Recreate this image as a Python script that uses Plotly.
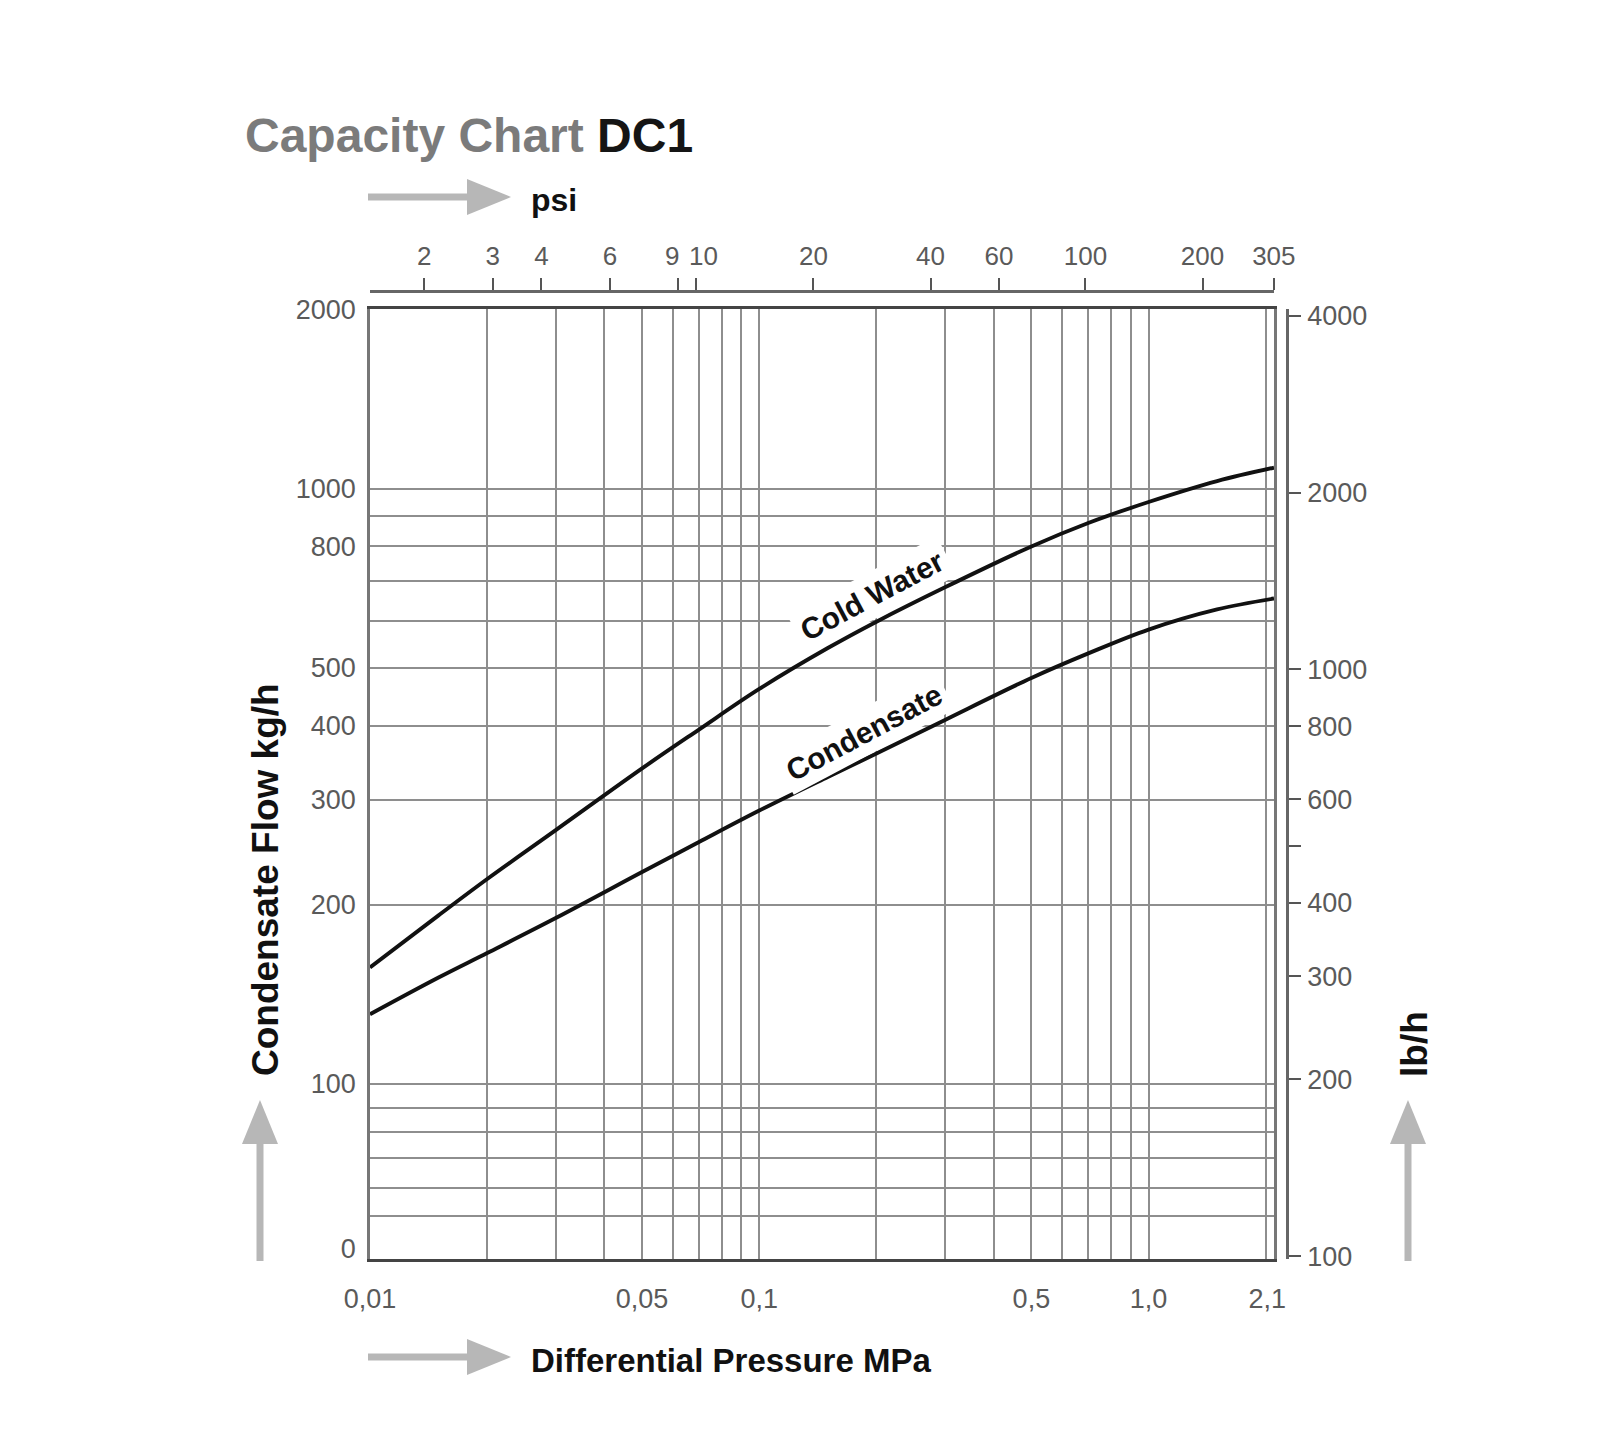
import math
import plotly.graph_objects as go

# values (MPa vs kg/h)
pressure_mpa = [0.01, 0.015, 0.02, 0.03, 0.05, 0.07, 0.1, 0.15, 0.2, 0.3, 0.5, 0.7, 1.0, 1.5, 2.1]
cold_water = [157, 192, 221, 267, 339, 394, 461, 540, 598, 683, 800, 876, 950, 1030, 1085]
condensate = [131, 151, 166, 190, 227, 255, 288, 328, 359, 409, 481, 529, 580, 627, 654]

x_tick_vals = [0.01, 0.05, 0.1, 0.5, 1.0, 2.1]
x_tick_text = ["0,01", "0,05", "0,1", "0,5", "1,0", "2,1\u2002"]
x_grid_vals = [0.02, 0.03, 0.04, 0.05, 0.06, 0.07, 0.08, 0.09, 0.1,
               0.2, 0.3, 0.4, 0.5, 0.6, 0.7, 0.8, 0.9, 1.0, 2.0]

y_tick_vals = [53, 100, 200, 300, 400, 500, 800, 1000, 2000]
y_tick_text = ["0", "100", "200", "300", "400", "500", "800", "1000", "2000"]
y_grid_vals = [60, 67, 75, 83, 91, 100, 200, 300, 400, 500, 600, 700, 800, 900, 1000]

psi_ticks = [2, 3, 4, 6, 9, 10, 20, 40, 60, 100, 200, 305]
psi_text = ["2", "3", "4", "6", "", "", "20", "40", "60", "100", "200", "305"]
# 9 and 10 sit very close; their labels are nudged apart
psi_close = [9, 10]
psi_close_shift = [-6, 7]

lbh_ticks = [100, 200, 300, 400, 500, 600, 800, 1000, 2000, 4000]
lbh_text = ["100", "200", "300", "400", "", "600", "800", "1000", "2000", "4000"]

MPA_PER_PSI = 0.0068948

FONT = "Liberation Sans, Arial, Helvetica, sans-serif"
GRID = "#8e8e8e"
ARROW = "#b7b7b7"

W, H = 1600, 1456
L, R, T, B = 362, 1279, 283, 1251  # paper box in pixels
Y_LOG = (1.706, 3.302)
X_LOG = (math.log10(0.01), math.log10(2.1))


def px(x):
    return (x - L) / (R - L)


def py(y):
    return (B - y) / (B - T)


def data_at(x_pix, y_pix):
    # pixel position inside the plot -> log10 data coords (for label placement)
    xl = X_LOG[0] + (x_pix - L) / (1266 - L) * (X_LOG[1] - X_LOG[0])
    yl = Y_LOG[0] + (B - y_pix) / (B - 301) * (Y_LOG[1] - Y_LOG[0])
    return xl, yl


fig = go.Figure()
for name, vals in [("Cold Water", cold_water), ("Condensate", condensate)]:
    fig.add_trace(go.Scatter(x=pressure_mpa, y=vals, mode="lines", name=name,
                             line=dict(color="#111", width=3.9, shape="spline", smoothing=1.0),
                             hoverinfo="x+y"))
# invisible helpers so the psi and lb/h axes get drawn
fig.add_trace(go.Scatter(x=[p / MPA_PER_PSI for p in pressure_mpa], y=cold_water,
                         xaxis="x2", yaxis="y", mode="lines", opacity=0,
                         line=dict(width=0), hoverinfo="skip"))
fig.add_trace(go.Scatter(x=pressure_mpa, y=[v * 2.20462 for v in condensate],
                         xaxis="x", yaxis="y2", mode="lines", opacity=0,
                         line=dict(width=0), hoverinfo="skip"))

tickfont = dict(family=FONT, size=27, color="#5a5a5a")
psifont = dict(family=FONT, size=26, color="#5a5a5a")

fig.update_layout(
    width=W, height=H,
    margin=dict(l=L, r=W - R, t=T, b=H - B),
    paper_bgcolor="white", plot_bgcolor="white",
    showlegend=False,
    xaxis=dict(
        type="log", range=list(X_LOG),
        domain=[0, (1266 - L) / (R - L)],
        tickmode="array", tickvals=x_tick_vals, ticktext=x_tick_text,
        ticks="", showgrid=False, tickfont=tickfont, ticklabelstandoff=14,
        showline=True, linecolor="#444", linewidth=3, mirror=True,
        minor=dict(tickmode="array", tickvals=x_grid_vals, showgrid=True,
                   gridcolor=GRID, gridwidth=1.6, ticks=""),
        zeroline=False,
    ),
    yaxis=dict(
        type="log", range=list(Y_LOG),
        domain=[0, (B - 301) / (B - T)],
        tickmode="array", tickvals=y_tick_vals, ticktext=y_tick_text,
        ticks="", showgrid=False, tickfont=tickfont, ticklabelstandoff=6,
        showline=True, linecolor="#777", linewidth=2.5, mirror=True,
        minor=dict(tickmode="array", tickvals=y_grid_vals, showgrid=True,
                   gridcolor=GRID, gridwidth=2, ticks=""),
        zeroline=False,
    ),
    xaxis2=dict(
        type="log", overlaying="x", side="top", anchor="free", position=1,
        range=[math.log10(0.01 / MPA_PER_PSI), math.log10(2.1 / MPA_PER_PSI) + 0.001],
        tickmode="array", tickvals=psi_ticks, ticktext=psi_text,
        tickangle=0, ticks="outside", ticklen=12, tickwidth=2, tickcolor="#555",
        showline=True, linecolor="#666", linewidth=2.5, ticklabelstandoff=3,
        showgrid=False, tickfont=psifont, zeroline=False,
    ),
    yaxis2=dict(
        type="log", overlaying="y", side="right", anchor="free", position=1,
        range=[1.995, 3.614],
        tickmode="array", tickvals=lbh_ticks, ticktext=lbh_text,
        ticks="outside", ticklen=12, tickwidth=2, tickcolor="#555",
        showline=True, linecolor="#666", linewidth=2.5, ticklabelstandoff=1,
        showgrid=False, tickfont=tickfont, zeroline=False,
    ),
)

for v, shift in zip(psi_close, psi_close_shift):
    fig.add_annotation(x=math.log10(v), xref="x2", y=py(248), yref="paper",
                       text=str(v), showarrow=False, xshift=shift,
                       xanchor="center", yanchor="middle", borderpad=0, font=psifont)

notes = [
    dict(text="<b><span style='color:#7b7b7b'>Capacity Chart</span> DC1</b>",
         x=px(235), y=py(128), xanchor="left", yanchor="middle",
         font=dict(family=FONT, size=48, color="#151515")),
    dict(text="<b>psi</b>", x=px(521), y=py(192), xanchor="left", yanchor="middle",
         font=dict(family=FONT, size=32, color="#111")),
    dict(text="<b>Differential Pressure MPa</b>", x=px(521), y=py(1352),
         xanchor="left", yanchor="middle", font=dict(family=FONT, size=33, color="#111")),
    dict(text="<b>Condensate Flow kg/h</b>", x=px(257), y=py(872), textangle=-90,
         xanchor="center", yanchor="middle", font=dict(family=FONT, size=37, color="#111")),
    dict(text="<b>lb/h</b>", x=px(1406), y=py(1036), textangle=-90,
         xanchor="center", yanchor="middle", font=dict(family=FONT, size=37, color="#111")),
]
for n in notes:
    fig.add_annotation(xref="paper", yref="paper", showarrow=False, **n)

# curve labels sit on the lines (log axes take log10 positions)
curve_font = dict(family=FONT, size=30, color="#111")
cx, cy = data_at(864, 587)
fig.add_annotation(x=cx, y=cy, xref="x", yref="y", text="<b>Cold Water</b>",
                   textangle=-28, showarrow=False, bgcolor="white", borderpad=5,
                   font=curve_font)
cx, cy = data_at(856, 724)
fig.add_annotation(x=cx, y=cy, xref="x", yref="y", text="<b>Condensate</b>",
                   textangle=-28, showarrow=False, bgcolor="white", borderpad=5,
                   font=curve_font)


def arrow(x0, y0, x1, y1, head=44, half=18):
    # grey block arrow from (x0, y0) to its tip (x1, y1), in pixels
    dx, dy = x1 - x0, y1 - y0
    n = math.hypot(dx, dy)
    ux, uy = dx / n, dy / n
    bx, by = x1 - ux * head, y1 - uy * head
    fig.add_shape(type="line", xref="paper", yref="paper",
                  x0=px(x0), y0=py(y0), x1=px(bx + ux * 2), y1=py(by + uy * 2),
                  line=dict(color=ARROW, width=7))
    pts = [(bx - uy * half, by + ux * half), (x1, y1), (bx + uy * half, by - ux * half)]
    path = "M " + " L ".join(f"{px(a):.5f},{py(b):.5f}" for a, b in pts) + " Z"
    fig.add_shape(type="path", xref="paper", yref="paper", path=path,
                  fillcolor=ARROW, line=dict(width=0))


arrow(360, 189, 503, 189)
arrow(360, 1349, 503, 1349)
arrow(252, 1253, 252, 1092)
arrow(1400, 1253, 1400, 1092)

fig.write_html("out.html")
